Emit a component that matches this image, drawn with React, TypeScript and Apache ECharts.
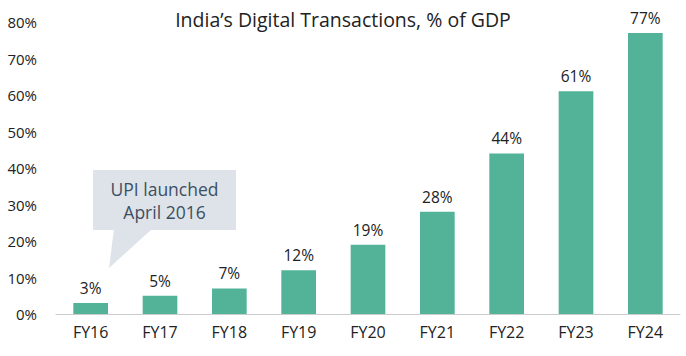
import React, { useEffect, useRef } from "react";
import * as echarts from "echarts";

const categories = ["FY16", "FY17", "FY18", "FY19", "FY20", "FY21", "FY22", "FY23", "FY24"];
const values = [3, 5, 7, 12, 19, 28, 44, 61, 77];
const yTicks = [0, 10, 20, 30, 40, 50, 60, 70, 80];
const titleText = "India\u2019s Digital Transactions, % of GDP";
const calloutLines = ["UPI launched", "April 2016"];

const FONT = "'Open Sans', 'Noto Sans', sans-serif";

export default function App() {
  const ref = useRef<HTMLDivElement>(null);
  useEffect(() => {
    document.body.style.margin = "0";
    const chart = echarts.init(ref.current!, null, { renderer: "svg" });
    chart.setOption({
      animation: false,
      backgroundColor: "#ffffff",
      textStyle: { fontFamily: FONT },
      title: {
        text: titleText,
        left: "center",
        top: 4,
        textStyle: { fontSize: 19.5, fontWeight: "normal", color: "#222222", fontFamily: FONT },
      },
      grid: { left: 56, right: 6, top: 22, bottom: 42 },
      xAxis: {
        type: "category",
        data: categories,
        axisLine: { show: true, lineStyle: { color: "#cccccc", width: 1 } },
        axisTick: { show: false },
        axisLabel: { color: "#222222", fontSize: 16, margin: 10, fontFamily: FONT },
      },
      yAxis: {
        type: "value",
        min: yTicks[0],
        max: yTicks[yTicks.length - 1],
        interval: 10,
        splitLine: { show: false },
        axisLine: { show: false },
        axisTick: { show: false },
        axisLabel: { color: "#222222", fontSize: 15, margin: 19, formatter: "{value}%", fontFamily: FONT },
      },
      series: [
        {
          type: "bar",
          data: values,
          barWidth: "50%",
          itemStyle: { color: "#52b399" },
          label: {
            show: true,
            position: "top",
            distance: 7,
            formatter: "{c}%",
            color: "#222222",
            fontSize: 15.5,
            fontFamily: FONT,
          },
        },
      ],
      graphic: [
        {
          type: "group",
          children: [
            {
              type: "rect",
              shape: { x: 93, y: 170, width: 143, height: 60 },
              style: { fill: "#dde3e8" },
            },
            {
              type: "polygon",
              shape: { points: [[114, 229], [152, 229], [109, 268]] },
              style: { fill: "#dde3e8" },
            },
            {
              type: "text",
              x: 164.5,
              y: 200,
              style: {
                text: calloutLines.join("\n"),
                fill: "#3d4f63",
                fontSize: 17.5,
                lineHeight: 23,
                fontFamily: FONT,
                align: "center",
                verticalAlign: "middle",
              },
            },
          ],
        },
      ],
    });
    return () => chart.dispose();
  }, []);
  return <div ref={ref} style={{ position: "absolute", left: 0, top: 0, width: 686, height: 356 }} />;
}
